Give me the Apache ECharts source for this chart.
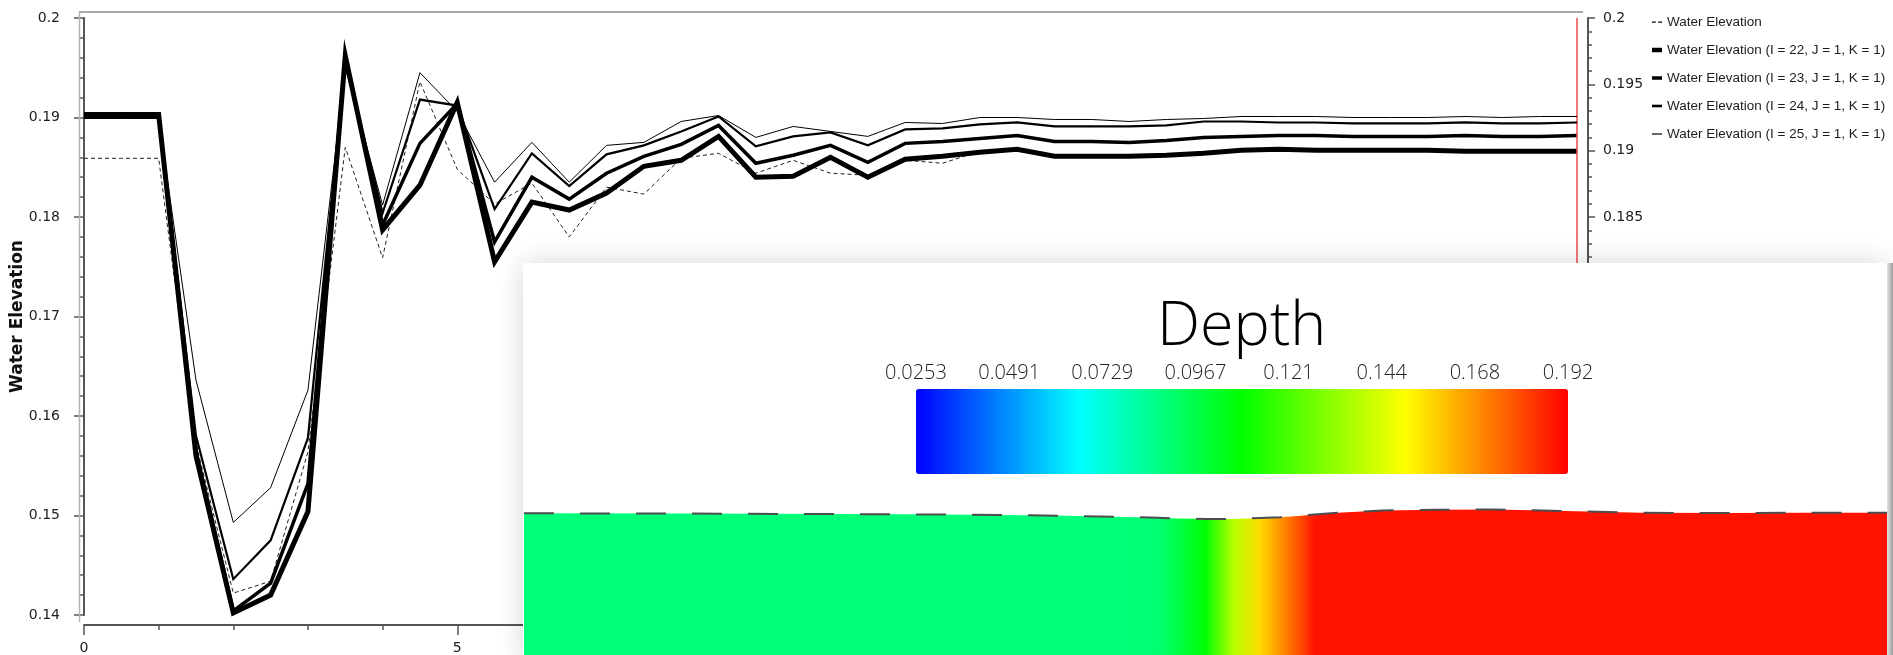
<!DOCTYPE html>
<html>
<head>
<meta charset="utf-8">
<title>Water Elevation</title>
<script src="https://cdn.jsdelivr.net/npm/echarts@6/dist/echarts.min.js"></script>
<style>
  html, body { margin: 0; padding: 0; background: #fff; }
  #chart { width: 1893px; height: 655px; }
</style>
</head>
<body>
<div id="chart"></div>
<script>
// time axis of the probe plot
var times = [0, 0.5, 1, 1.5, 2, 2.5, 3, 3.5, 4, 4.5, 5, 5.5, 6, 6.5, 7, 7.5, 8, 8.5, 9, 9.5,
  10, 10.5, 11, 11.5, 12, 12.5, 13, 13.5, 14, 14.5, 15, 15.5, 16, 16.5, 17, 17.5, 18, 18.5, 19, 19.5, 20];

var waterElevation = [0.1859, 0.1859, 0.1859, 0.1572, 0.1422, 0.1434, 0.1564, 0.1870, 0.1759, 0.1936,
  0.1848, 0.1813, 0.1834, 0.1780, 0.1830, 0.1823, 0.1859, 0.1864, 0.1844, 0.1857,
  0.1844, 0.1842, 0.1857, 0.1854, 0.1866, 0.1866, 0.1862, 0.1862, 0.1862, 0.1863,
  0.1864, 0.1867, 0.1868, 0.1867, 0.1867, 0.1867, 0.1867, 0.1866, 0.1866, 0.1866, 0.1866];
var elevI22 = [0.1903, 0.1903, 0.1903, 0.1560, 0.1402, 0.1420, 0.1504, 0.1962, 0.1787, 0.1832,
  0.1915, 0.1755, 0.1815, 0.1807, 0.1824, 0.1851, 0.1857, 0.1881, 0.1840, 0.1841,
  0.1860, 0.1840, 0.1858, 0.1861, 0.1865, 0.1868, 0.1861, 0.1861, 0.1861, 0.1862,
  0.1864, 0.1867, 0.1868, 0.1867, 0.1867, 0.1867, 0.1867, 0.1866, 0.1866, 0.1866, 0.1866];
var elevI23 = [0.1902, 0.1902, 0.1902, 0.1565, 0.1404, 0.1432, 0.1532, 0.1960, 0.1792, 0.1874,
  0.1914, 0.1775, 0.1840, 0.1818, 0.1844, 0.1861, 0.1873, 0.1892, 0.1854, 0.1862,
  0.1872, 0.1855, 0.1874, 0.1876, 0.1879, 0.1882, 0.1876, 0.1876, 0.1875, 0.1877,
  0.1880, 0.1881, 0.1882, 0.1882, 0.1881, 0.1881, 0.1881, 0.1882, 0.1881, 0.1881, 0.1882];
var elevI24 = [0.1900, 0.1900, 0.1900, 0.1580, 0.1436, 0.1475, 0.1578, 0.1956, 0.1804, 0.1918,
  0.1912, 0.1808, 0.1864, 0.1831, 0.1863, 0.1872, 0.1886, 0.1901, 0.1871, 0.1881,
  0.1885, 0.1872, 0.1888, 0.1889, 0.1893, 0.1895, 0.1891, 0.1891, 0.1891, 0.1892,
  0.1896, 0.1896, 0.1895, 0.1895, 0.1894, 0.1894, 0.1894, 0.1895, 0.1894, 0.1894, 0.1895];
var elevI25 = [0.1899, 0.1899, 0.1899, 0.1636, 0.1493, 0.1528, 0.1626, 0.1950, 0.1812, 0.1945,
  0.1906, 0.1835, 0.1875, 0.1835, 0.1872, 0.1875, 0.1896, 0.1902, 0.1880, 0.1891,
  0.1886, 0.1881, 0.1895, 0.1894, 0.1900, 0.1900, 0.1898, 0.1898, 0.1896, 0.1898,
  0.1899, 0.1901, 0.1901, 0.1901, 0.1900, 0.1900, 0.1900, 0.1901, 0.1900, 0.1901, 0.1901];

var seriesNames = ['Water Elevation',
  'Water Elevation (I = 22, J = 1, K = 1)',
  'Water Elevation (I = 23, J = 1, K = 1)',
  'Water Elevation (I = 24, J = 1, K = 1)',
  'Water Elevation (I = 25, J = 1, K = 1)'];
var currentTime = 20;

// depth colour legend of the render view
var depthTicks = ['0.0253', '0.0491', '0.0729', '0.0967', '0.121', '0.144', '0.168', '0.192'];
var depthMin = 0.0253, depthMax = 0.1919;
var depthColors = ['#0000ff', '#00ffff', '#00ff00', '#ffff00', '#ff0000'];

// water surface along the channel in the render view
var profileX = [0, 12, 28, 35, 40, 44, 46.5, 48, 50, 52, 54, 55.5, 57, 58, 60, 63, 67, 71, 74, 78, 82, 88, 94, 100];
var profileSurface = [1.417, 1.414, 1.407, 1.400, 1.392, 1.380, 1.373, 1.364, 1.360, 1.360, 1.370, 1.378,
  1.393, 1.405, 1.425, 1.445, 1.453, 1.455, 1.447, 1.435, 1.422, 1.420, 1.422, 1.423];
var profileDepth = [0.089, 0.089, 0.089, 0.089, 0.089, 0.089, 0.090, 0.097, 0.108, 0.138, 0.156, 0.168,
  0.180, 0.189, 0.189, 0.189, 0.189, 0.189, 0.189, 0.189, 0.189, 0.189, 0.189, 0.189];

var elevations = [waterElevation, elevI22, elevI23, elevI24, elevI25];
var lineWidths = [1, 5, 3.5, 2.2, 1];
var lineTypes = [[4, 3], 'solid', 'solid', 'solid', 'solid'];
// legend swatches: dashed stroke, then bars getting thinner
var legendIcons = [
  'path://M0,0H3V1H0Z M5,0H8V1H5Z',
  'path://M0,0H10V4.5H0Z',
  'path://M0,0H10V3.5H0Z',
  'path://M0,0H10V2.6H0Z',
  'path://M0,0H10V1.2H0Z'
];

var axisFont = 'DejaVu Sans';
var axisGray = '#555';

var chart = echarts.init(document.getElementById('chart'));

var lineSeries = elevations.map(function (ys, k) {
  var s = {
    name: seriesNames[k],
    type: 'line',
    xAxisIndex: 0,
    yAxisIndex: 0,
    symbol: 'none',
    showSymbol: false,
    color: '#000',
    data: times.map(function (t, i) { return [t, ys[i]]; }),
    itemStyle: { color: '#000' },
    lineStyle: { color: k === 0 ? '#222' : '#000', width: lineWidths[k], type: lineTypes[k], join: 'miter' },
    z: 2 + k
  };
  if (k === 0) {
    s.markLine = {
      silent: true,
      symbol: 'none',
      label: { show: false },
      lineStyle: { color: '#f04848', width: 1.5, type: 'solid' },
      data: [{ xAxis: currentTime }]
    };
  }
  return s;
});

var span = profileX[profileX.length - 1] - profileX[0];
var depthStops = profileX.map(function (x, i) {
  return {
    offset: (x - profileX[0]) / span,
    color: echarts.color.lerp((profileDepth[i] - depthMin) / (depthMax - depthMin), depthColors)
  };
});

var profileSeries = {
  name: 'Depth',
  type: 'line',
  xAxisIndex: 2,
  yAxisIndex: 3,
  symbol: 'none',
  showSymbol: false,
  silent: true,
  data: profileX.map(function (x, i) { return [x, profileSurface[i], profileDepth[i]]; }),
  lineStyle: { color: '#4d4d4d', width: 2, type: [30, 26] },
  areaStyle: { origin: 'start', opacity: 1, color: new echarts.graphic.LinearGradient(0, 0, 1, 0, depthStops) },
  z: 60
};

var option = {
  animation: false,
  backgroundColor: '#fff',
  textStyle: { fontFamily: axisFont },
  title: {
    text: 'Depth',
    left: 1157,
    top: 297,
    padding: 0,
    z: 60,
    textStyle: { fontFamily: 'Open Sans', fontWeight: 300, fontSize: 61, color: '#000' }
  },
  legend: {
    orient: 'vertical',
    left: 1652,
    top: 15,
    padding: 0,
    itemWidth: 10,
    itemHeight: 14,
    itemGap: 14,
    itemTextGap: 6,
    selectedMode: false,
    textStyle: { fontFamily: 'Liberation Sans', fontSize: 13.5, color: '#1b1b1b' },
    data: seriesNames.map(function (n, k) {
      return { name: n, icon: legendIcons[k], itemStyle: { color: '#000' } };
    })
  },
  grid: [
    { left: 84, right: 316, top: 18, bottom: 40, containLabel: false, outerBoundsMode: 'none' },
    { left: 916, top: 389, width: 652, height: 85, containLabel: false, outerBoundsMode: 'none' },
    { left: 524, right: 6, top: 480, bottom: 0, containLabel: false, outerBoundsMode: 'none' }
  ],
  xAxis: [
    {
      gridIndex: 0, type: 'value', min: 0, max: 20, interval: 5, offset: 10,
      axisLine: { lineStyle: { color: axisGray, width: 2 } },
      axisTick: { length: 10, lineStyle: { color: axisGray, width: 1.5 } },
      minorTick: { show: true, splitNumber: 5, length: 5, lineStyle: { color: axisGray, width: 1.5 } },
      splitLine: { show: false },
      axisLabel: { margin: 16, fontSize: 14, color: '#222', fontFamily: axisFont }
    },
    {
      gridIndex: 1, type: 'category', data: depthTicks, boundaryGap: false, position: 'top', z: 60,
      axisLine: { show: false }, axisTick: { show: false },
      axisLabel: { interval: 0, margin: 6, fontFamily: 'Open Sans', fontWeight: 300, fontSize: 20, color: '#222' }
    },
    { gridIndex: 2, type: 'value', min: 0, max: 100, show: false }
  ],
  yAxis: [
    {
      gridIndex: 0, type: 'value', position: 'left', min: 0.14, max: 0.2, interval: 0.01, offset: 7,
      name: 'Water Elevation', nameLocation: 'middle', nameGap: 51, nameMoveOverlap: false,
      nameTextStyle: { fontFamily: axisFont, fontWeight: 'bold', fontSize: 17, color: '#111' },
      axisLine: { show: true, lineStyle: { color: axisGray, width: 2 } },
      axisTick: { show: true, length: 10, lineStyle: { color: axisGray, width: 1.5 } },
      minorTick: { show: true, splitNumber: 5, length: 5, lineStyle: { color: axisGray, width: 1.5 } },
      splitLine: { show: false },
      axisLabel: { margin: 17, fontSize: 14, color: '#222', fontFamily: axisFont }
    },
    {
      gridIndex: 0, type: 'value', position: 'right', min: 0.155, max: 0.2, interval: 0.005, offset: 11,
      axisLine: { show: true, lineStyle: { color: axisGray, width: 2 } },
      axisTick: { show: true, length: 7, lineStyle: { color: axisGray, width: 1.5 } },
      minorTick: { show: true, splitNumber: 5, length: 4, lineStyle: { color: axisGray, width: 1.5 } },
      splitLine: { show: false },
      axisLabel: { margin: 15, fontSize: 14, color: '#222', fontFamily: axisFont }
    },
    { gridIndex: 1, type: 'value', min: 0, max: 1, show: false },
    { gridIndex: 2, type: 'value', min: 0, max: 1.75, show: false }
  ],
  visualMap: {
    type: 'continuous',
    orient: 'horizontal',
    min: depthMin,
    max: depthMax,
    calculable: false,
    seriesIndex: 5,
    dimension: 2,
    left: 916,
    top: 389,
    padding: 0,
    itemWidth: 85,
    itemHeight: 652,
    inRange: { color: depthColors },
    z: 60
  },
  graphic: [
    { type: 'line', silent: true, z: 1, shape: { x1: 79, y1: 12, x2: 1583, y2: 12 }, style: { stroke: '#a9a9a9', lineWidth: 2 } },
    { type: 'line', silent: true, z: 1, shape: { x1: 79.5, y1: 12, x2: 79.5, y2: 622 }, style: { stroke: '#b4b4b4', lineWidth: 1.5 } },
    {
      type: 'rect', silent: true, z: 50,
      shape: { x: 523, y: 263, width: 1364, height: 400 },
      style: { fill: '#fff', shadowBlur: 26, shadowColor: 'rgba(0,0,0,0.16)' }
    },
    {
      type: 'rect', silent: true, z: 51,
      shape: { x: 1887, y: 263, width: 6, height: 392 },
      style: { fill: new echarts.graphic.LinearGradient(0, 0, 1, 0, [
        { offset: 0, color: '#e2e2e2' }, { offset: 1, color: '#9c9c9c' }]) }
    }
  ],
  series: lineSeries.concat([profileSeries])
};

chart.setOption(option);
</script>
</body>
</html>
